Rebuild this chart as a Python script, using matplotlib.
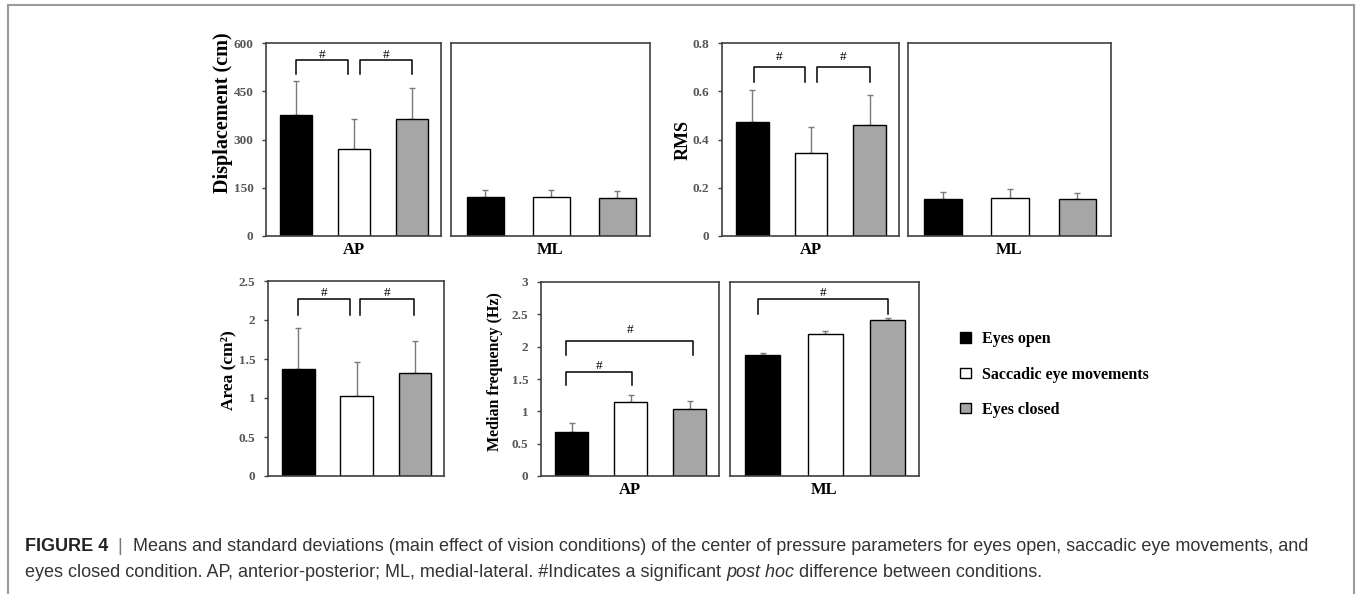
import matplotlib.pyplot as plt
from matplotlib.lines import Line2D
import numpy as np

conditions = ["Eyes open", "Saccadic eye movements", "Eyes closed"]
bar_colors = ["#000000", "#ffffff", "#a6a6a6"]

disp_ap = [375, 271, 363]
disp_ap_sd = [106, 93, 98]
disp_ml = [120, 120, 119]
disp_ml_sd = [22, 22, 20]

rms_ap = [0.473, 0.345, 0.461]
rms_ap_sd = [0.131, 0.105, 0.125]
rms_ml = [0.152, 0.156, 0.152]
rms_ml_sd = [0.029, 0.038, 0.026]

area_ap = [1.368, 1.026, 1.325]
area_ap_sd = [0.53, 0.43, 0.41]

mf_ap = [0.686, 1.14, 1.033]
mf_ap_sd = [0.13, 0.115, 0.127]
mf_ml = [1.869, 2.20, 2.416]
mf_ml_sd = [0.031, 0.04, 0.031]

# significance brackets: (x start, x end, top, leg bottom, label y)
disp_sig = [(0.0, 0.9, 546, 503, 564), (1.1, 2.0, 546, 503, 564)]
rms_sig = [(0.02, 0.9, 0.699, 0.64, 0.74), (1.1, 2.0, 0.699, 0.64, 0.74)]
area_sig = [(0.0, 0.89, 2.27, 2.06, 2.34), (1.06, 1.98, 2.27, 2.06, 2.34)]
mf_ap_sig = [(-0.09, 2.06, 2.09, 1.874, 2.25), (-0.09, 1.02, 1.606, 1.40, 1.70)]
mf_ml_sig = [(-0.07, 2.0, 2.736, 2.51, 2.83)]

W, H = 1356, 594
SERIF = "Liberation Serif"
SANS = "Liberation Sans"

fig = plt.figure(figsize=(W / 100, H / 100), dpi=100)


def px_axes(l, r, t, b):
    return fig.add_axes([l / W, 1 - b / H, (r - l) / W, (b - t) / H])


def panel(ax, vals, sds, ymax, step, xlabel=None, ylabel=None, label_dx=34,
          label_y=0.5, label_size=13, show_y=True, sig=()):
    x = np.arange(len(vals))
    bars = ax.bar(x, vals, width=0.56, color=bar_colors, edgecolor="black",
                  linewidth=1.0, zorder=2)
    ax.errorbar(x, vals, yerr=[np.zeros(len(sds)), sds], fmt="none",
                ecolor="#7a7a7a", elinewidth=1.0, capsize=2.5, capthick=1.0,
                zorder=1)
    ax.set_xlim(-0.52, 2.5)
    ax.set_ylim(0, ymax)
    ax.set_xticks([])
    for s in ax.spines.values():
        s.set_color("#404040")
        s.set_linewidth(1.2)
    if show_y:
        ticks = np.arange(0, ymax + step / 2, step)
        ax.set_yticks(ticks)
        ax.set_yticklabels([f"{t:g}" for t in ticks], fontfamily=SERIF,
                           fontweight="bold", fontsize=9.5, color="#555555")
        ax.tick_params(axis="y", direction="out", length=3, width=1,
                       color="#404040", pad=6)
    else:
        ax.set_yticks([])
    if xlabel:
        ax.set_xlabel(xlabel, fontfamily=SERIF, fontweight="bold",
                      fontsize=12, labelpad=4)
    if ylabel:
        ax.set_ylabel(ylabel, fontfamily=SERIF, fontweight="bold",
                      fontsize=label_size)
        wpx = ax.get_position().width * W
        ax.yaxis.set_label_coords(-label_dx / wpx, label_y)
    for x0, x1, top, bot, ty in sig:
        ax.plot([x0, x0, x1, x1], [bot, top, top, bot], color="black",
                lw=1.1, zorder=3)
        ax.text((x0 + x1) / 2, ty, "#", ha="center", va="center",
                fontfamily=SERIF, fontsize=9.5)
    return bars


ax1 = px_axes(266, 441, 43, 236)
bars = panel(ax1, disp_ap, disp_ap_sd, 600, 150, "AP", "Displacement (cm)",
             label_dx=33, label_y=0.637, label_size=14.5, sig=disp_sig)
ax2 = px_axes(451, 650, 43, 236)
panel(ax2, disp_ml, disp_ml_sd, 600, 150, "ML", show_y=False)

ax3 = px_axes(722, 899, 43, 236)
panel(ax3, rms_ap, rms_ap_sd, 0.8, 0.2, "AP", "RMS", label_dx=30,
      label_size=13, sig=rms_sig)
ax4 = px_axes(908, 1111, 43, 236)
panel(ax4, rms_ml, rms_ml_sd, 0.8, 0.2, "ML", show_y=False)

ax5 = px_axes(268, 444, 281, 476)
panel(ax5, area_ap, area_ap_sd, 2.5, 0.5, None, "Area (cm²)",
      label_dx=32, label_y=0.544, label_size=12.5, sig=area_sig)

ax6 = px_axes(541, 719, 282, 476)
panel(ax6, mf_ap, mf_ap_sd, 3, 0.5, "AP", "Median frequency (Hz)",
      label_dx=38, label_y=0.536, label_size=11.5, sig=mf_ap_sig)
ax7 = px_axes(730, 919, 282, 476)
panel(ax7, mf_ml, mf_ml_sd, 3, 0.5, "ML", show_y=False, sig=mf_ml_sig)

fig.legend(bars.patches, conditions, loc="upper left",
           bbox_to_anchor=(946 / W, 1 - 317 / H), frameon=False,
           handlelength=0.65, handleheight=0.65, handletextpad=0.7,
           labelspacing=1.2,
           prop={"family": SERIF, "weight": "bold", "size": 11.5})

# frame around the figure
for xs, ys in [([8, 1354], [5, 5]), ([8, 8], [5, 594]), ([1354, 1354], [5, 594])]:
    fig.add_artist(Line2D([x / W for x in xs], [1 - y / H for y in ys],
                          color="#9a9a9a", lw=1.5))

# caption
renderer = fig.canvas.get_renderer()


def put_parts(x_px, y_px, parts):
    x = x_px / W
    for txt, kw in parts:
        style = {"fontfamily": SANS, "fontsize": 13, "color": "#333333",
                 "va": "baseline"}
        style.update(kw)
        t = fig.text(x, 1 - y_px / H, txt, **style)
        x = t.get_window_extent(renderer).x1 / W


put_parts(25, 551, [
    ("FIGURE 4", {"fontweight": "bold", "color": "#222222"}),
    ("  |  ", {"color": "#777777"}),
    ("Means and standard deviations (main effect of vision conditions) of the "
     "center of pressure parameters for eyes open, saccadic eye movements, and", {}),
])
put_parts(25, 577, [
    ("eyes closed condition. AP, anterior-posterior; ML, medial-lateral. "
     "#Indicates a significant ", {}),
    ("post hoc", {"fontstyle": "italic"}),
    (" difference between conditions.", {}),
])

fig.savefig("out.png", dpi=100)
